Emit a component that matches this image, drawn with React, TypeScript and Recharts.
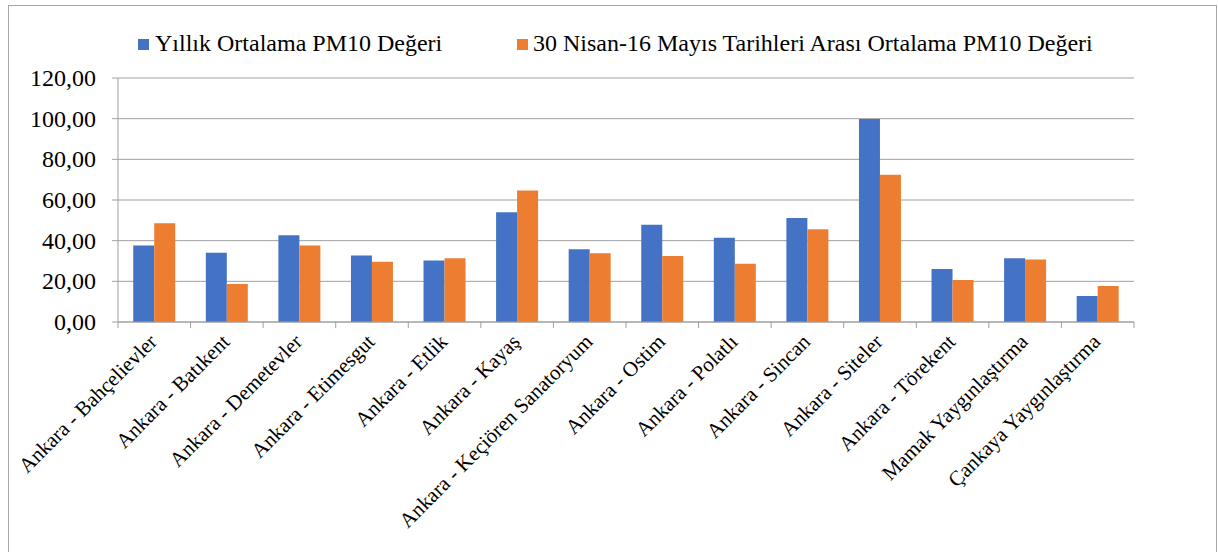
import React from "react";
import { BarChart, Bar, XAxis, YAxis, CartesianGrid, Legend } from "recharts";

const categories: string[] = [
  "Ankara - Bahçelievler",
  "Ankara - Batıkent",
  "Ankara - Demetevler",
  "Ankara - Etimesgut",
  "Ankara - Etlik",
  "Ankara - Kayaş",
  "Ankara - Keçiören Sanatoryum",
  "Ankara - Ostim",
  "Ankara - Polatlı",
  "Ankara - Sincan",
  "Ankara - Siteler",
  "Ankara - Törekent",
  "Mamak Yaygınlaştırma",
  "Çankaya Yaygınlaştırma",
];

const yillik: number[] = [37.6, 34.0, 42.7, 32.7, 30.2, 54.0, 35.8, 47.8, 41.4, 51.1, 99.8, 26.1, 31.4, 12.8];
const nisanMayis: number[] = [48.6, 18.7, 37.6, 29.6, 31.4, 64.7, 33.8, 32.5, 28.6, 45.6, 72.4, 20.7, 30.7, 17.7];

const yTicks: number[] = [0, 20, 40, 60, 80, 100, 120];

const seriesNames = {
  a: "Yıllık Ortalama PM10 Değeri",
  b: "30 Nisan-16 Mayıs Tarihleri Arası Ortalama PM10 Değeri",
};

const data = categories.map((name, i) => ({ name, a: yillik[i], b: nisanMayis[i] }));

const FONT = "Liberation Serif, Times New Roman, serif";
const BLUE = "#4472C4";
const ORANGE = "#ED7D31";
const GRID = "#a0a0a0";

const fmt = (v: number) => v.toFixed(2).replace(".", ",");

const XTick = (props: any) => {
  const { x, y, payload, index } = props;
  const off = payload?.offset ?? 0;
  return (
    <g>
      {index === 0 && <line x1={x - off} x2={x - off} y1={y - 8} y2={y - 2} stroke={GRID} />}
      <line x1={x + off} x2={x + off} y1={y - 8} y2={y - 2} stroke={GRID} />
      <text
        x={x + 4}
        y={y + 13}
        transform={`rotate(-45, ${x + 4}, ${y + 13})`}
        textAnchor="end"
        fontFamily={FONT}
        fontSize={21}
        fill="#000"
      >
        {payload.value}
      </text>
    </g>
  );
};

const YTick = (props: any) => {
  const { x, y, payload } = props;
  return (
    <text x={x} y={y} dy={8} textAnchor="end" fontFamily={FONT} fontSize={24} fill="#000">
      {fmt(payload.value)}
    </text>
  );
};

const itemText: React.CSSProperties = {
  position: "absolute",
  top: 25,
  lineHeight: "24px",
  fontSize: 24,
  fontFamily: FONT,
  color: "#000",
  whiteSpace: "nowrap",
};
const sq = (left: number, color: string): React.CSSProperties => ({
  position: "absolute",
  left,
  top: 33,
  width: 11,
  height: 11,
  background: color,
});

const LegendContent = () => (
  <div style={{ position: "relative", width: 1200, height: 60 }}>
    <span style={sq(129, BLUE)} />
    <span style={{ ...itemText, left: 146 }}>{seriesNames.a}</span>
    <span style={sq(508, ORANGE)} />
    <span style={{ ...itemText, left: 524 }}>{seriesNames.b}</span>
  </div>
);

export default function App() {
  return (
    <div
      style={{
        position: "absolute",
        left: 8,
        top: 5,
        width: 1209,
        height: 560,
        border: "1px solid #a6a6a6",
        boxSizing: "border-box",
        background: "#fff",
        fontFamily: FONT,
      }}
    >
      <BarChart
        width={1207}
        height={558}
        data={data}
        margin={{ top: 72, right: 82, bottom: 42, left: 0 }}
        barCategoryGap="21%"
        barGap={0}
      >
        <CartesianGrid vertical={false} stroke={GRID} strokeWidth={1} />
        <XAxis
          dataKey="name"
          interval={0}
          height={200}
          tick={<XTick />}
          tickLine={false}
          axisLine={{ stroke: GRID }}
        />
        <YAxis
          domain={[0, 120]}
          ticks={yTicks}
          width={109}
          tick={<YTick />}
          tickLine={{ stroke: GRID }}
          tickSize={6}
          tickMargin={16}
          axisLine={{ stroke: GRID }}
        />
        <Legend
          verticalAlign="middle"
          align="center"
          layout="horizontal"
          content={<LegendContent />}
          wrapperStyle={{ top: 0, left: 0, width: 1200, height: 60 }}
        />
        <Bar dataKey="a" name={seriesNames.a} fill={BLUE} isAnimationActive={false} />
        <Bar dataKey="b" name={seriesNames.b} fill={ORANGE} isAnimationActive={false} />
      </BarChart>
    </div>
  );
}
